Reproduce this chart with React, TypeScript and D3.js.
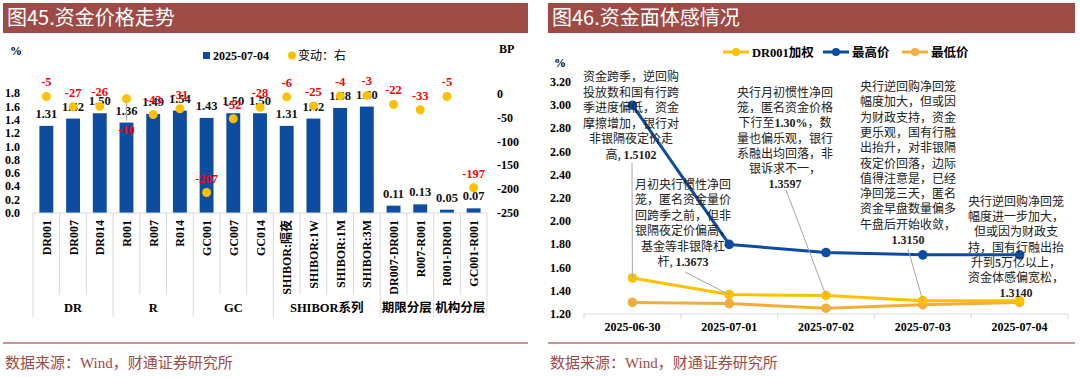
import React from "react";
import * as d3 from "d3";

// ---------- Left chart data ----------
const leftCategories = [
  "DR001", "DR007", "DR014", "R001", "R007", "R014", "GC001", "GC007", "GC014",
  "SHIBOR:隔夜", "SHIBOR:1W", "SHIBOR:1M", "SHIBOR:3M",
  "DR007-DR001", "R007-R001", "R001-DR001", "GC001-R001",
];
const leftValues = [1.31, 1.42, 1.5, 1.36, 1.49, 1.54, 1.43, 1.5, 1.5, 1.31, 1.42, 1.58, 1.6, 0.11, 0.13, 0.05, 0.07];
const leftChanges = [-5, -27, -26, -10, -43, -31, -207, -52, -28, -6, -25, -4, -3, -22, -33, -5, -197];
const leftGroupNames = ["DR", "R", "GC", "SHIBOR系列", "期限分层", "机构分层"];
const leftGroupStarts = [0, 3, 6, 9, 13, 15];
const leftGroupEnds = [2, 5, 8, 12, 14, 16];
const leftYTicks = [0, 0.2, 0.4, 0.6, 0.8, 1.0, 1.2, 1.4, 1.6, 1.8];
const leftRTicks = [0, -50, -100, -150, -200, -250];

// ---------- Right chart data ----------
const dates = ["2025-06-30", "2025-07-01", "2025-07-02", "2025-07-03", "2025-07-04"];
const dr001 = [1.5102, 1.3673, 1.3597, 1.315, 1.314];
const highs = [3.0, 1.8, 1.73, 1.71, 1.71];
const lows = [1.3, 1.29, 1.25, 1.28, 1.3];
const rightTicks = [1.2, 1.4, 1.6, 1.8, 2.0, 2.2, 2.4, 2.6, 2.8, 3.0, 3.2];

const annotations = [
  { idx: 0, cx: 631, y0: 81, step: 15.5, leader: [632, 163], lines: ["资金跨季，逆回购", "投放数和国有行跨", "季进度偏低，资金", "摩擦增加，银行对", "非银隔夜定价走", "高, 1.5102"] },
  { idx: 1, cx: 683, y0: 189, step: 15.4, leader: [685, 272], lines: ["月初央行惯性净回", "笼，匿名资金量价", "回跨季之前，但非", "银隔夜定价偏高，", "基金等非银降杠", "杆, 1.3673"] },
  { idx: 2, cx: 785, y0: 97, step: 15.2, leader: [786, 190], lines: ["央行月初惯性净回", "笼，匿名资金价格", "下行至1.30%，数", "量也偏乐观，银行", "系融出均回落，非", "银诉求不一，", "1.3597"] },
  { idx: 3, cx: 908, y0: 91, step: 15.3, leader: [908, 249], lines: ["央行逆回购净回笼", "幅度加大，但或因", "为财政支持，资金", "更乐观，国有行融", "出抬升，对非银隔", "夜定价回落，边际", "值得注意是，已经", "净回笼三天，匿名", "资金早盘数量偏多", "午盘后开始收敛，", "1.3150"] },
  { idx: 4, cx: 1016, y0: 206, step: 15.2, leader: null as null | number[], lines: ["央行逆回购净回笼", "幅度进一步加大，", "但或因为财政支", "持，国有行融出抬", "升到5万亿以上，", "资金体感偏宽松，", "1.3140"] },
];

const SERIF = "'Liberation Serif', 'Times New Roman', 'Noto Sans CJK SC', serif";
const MIX = "'Liberation Serif', 'Noto Sans CJK SC', serif";
const CJK = "'Noto Sans CJK SC', sans-serif";
const TITLE_BG = "#9E4A45";
const SRC_COLOR = "#9E4A45";
const BLUE = "#0C4DA2";
const GOLD = "#FFC000";
const ORANGE = "#F0AC3C";

function MixedText({ text, x, y, size }: { text: string; x: number; y: number; size: number }) {
  const parts = text.split(/([0-9][0-9.%]*)/).filter((p) => p.length > 0);
  return (
    <text x={x} y={y} textAnchor="middle" fontSize={size} fontFamily={MIX} fill="#222">
      {parts.map((p, i) =>
        /^[0-9]/.test(p) ? (
          <tspan key={i} fontWeight="bold" fontFamily={SERIF}>{p}</tspan>
        ) : (
          <tspan key={i} fontFamily={CJK}>{p}</tspan>
        )
      )}
    </text>
  );
}

function LeftChart() {
  const x = d3.scaleBand<string>().domain(leftCategories).range([33, 487]).padding(0);
  const yL = d3.scaleLinear().domain([0, 2.0]).range([213, 80]);
  const yR = d3.scaleLinear().domain([-250, 0]).range([213, 94]);
  const bw = x.bandwidth() * 0.52;
  const step = x.step();
  const boundaries = d3.range(leftCategories.length + 1).map((i) => 33 + i * step);
  const groupBoundarySet = new Set<number>([0, ...leftGroupEnds.map((e) => e + 1)]);
  return (
    <g>
      <rect x={3} y={3} width={525} height={30} fill={TITLE_BG} />
      <text x={7} y={25} fontSize={20} fill="#fff" fontFamily={CJK}>图45.资金价格走势</text>

      <text x={10} y={55} fontSize={12} fontWeight="bold" fontFamily={SERIF}>%</text>
      <text x={499} y={53} fontSize={12} fontWeight="bold" fontFamily={SERIF}>BP</text>

      {/* legend */}
      <rect x={203} y={52} width={7} height={7} fill={BLUE} />
      <text x={213} y={59.5} fontSize={12} fontWeight="bold" fontFamily={SERIF}>2025-07-04</text>
      <circle cx={292} cy={55.5} r={4} fill={GOLD} />
      <text x={298} y={60} fontSize={12} fontFamily={CJK}>变动：右</text>

      {leftYTicks.map((t) => (
        <text key={t} x={20} y={yL(t) + 4} textAnchor="end" fontSize={12} fontWeight="bold" fontFamily={SERIF}>
          {t.toFixed(1)}
        </text>
      ))}
      {leftRTicks.map((t) => (
        <text key={t} x={497} y={yR(t) + 4} textAnchor="start" fontSize={12} fontWeight="bold" fontFamily={SERIF}>
          {t}
        </text>
      ))}

      {/* bars */}
      {leftCategories.map((c, i) => {
        const cx = (x(c) as number) + step / 2;
        return (
          <g key={c}>
            <rect x={cx - bw / 2} y={yL(leftValues[i])} width={bw} height={yL(0) - yL(leftValues[i])} fill={BLUE} />
            <text x={cx} y={yL(leftValues[i]) - 8} textAnchor="middle" fontSize={12.5} fontWeight="bold" fontFamily={SERIF} fill="#111">
              {leftValues[i].toFixed(2)}
            </text>
          </g>
        );
      })}

      {/* axis */}
      <line x1={33} x2={487} y1={213} y2={213} stroke="#D9D9D9" strokeWidth={1} />
      {boundaries.map((b, i) => (
        <line key={i} x1={b} x2={b} y1={213} y2={groupBoundarySet.has(i) ? 317 : 295} stroke="#D9D9D9" strokeWidth={1} />
      ))}
      {leftCategories.map((c) => {
        const cx = (x(c) as number) + step / 2;
        return (
          <text key={c} transform={`translate(${cx + 4.5},220) rotate(-90)`} textAnchor="end" fontSize={12} fontWeight="bold" fontFamily={SERIF}>
            {c}
          </text>
        );
      })}
      {leftGroupNames.map((g, i) => {
        const a = 33 + leftGroupStarts[i] * step;
        const b = 33 + (leftGroupEnds[i] + 1) * step;
        return (
          <text key={g} x={(a + b) / 2} y={312} textAnchor="middle" fontSize={12.5} fontWeight="bold" fontFamily={SERIF}>
            {g}
          </text>
        );
      })}

      {/* dots & change labels */}
      {leftCategories.map((c, i) => {
        const cx = (x(c) as number) + step / 2;
        const cy = yR(leftChanges[i]);
        const below = i === 3;
        return (
          <g key={c + "d"}>
            {below && <line x1={cx} x2={cx} y1={cy} y2={cy + 22} stroke="#A6A6A6" strokeWidth={1} />}
            <circle cx={cx} cy={cy} r={4.5} fill={GOLD} />
            <text x={cx} y={below ? cy + 35 : cy - 10} textAnchor="middle" fontSize={12.5} fontWeight="bold" fontFamily={SERIF} fill="#FF0000">
              {leftChanges[i]}
            </text>
          </g>
        );
      })}

      <line x1={3} x2={528} y1={343} y2={343} stroke="#B5706B" strokeWidth={1.5} />
      <text x={5} y={368} fontSize={15} fill={SRC_COLOR} fontFamily={MIX}>数据来源：Wind，财通证券研究所</text>
    </g>
  );
}

function RightChart() {
  const x = d3.scaleBand<string>().domain(dates).range([584, 1068]).padding(0);
  const y = d3.scaleLinear().domain([1.2, 3.2]).range([314, 82]);
  const cx = (d: string) => (x(d) as number) + x.bandwidth() / 2;
  const line = d3.line<number>().x((_, i) => cx(dates[i])).y((v) => y(v));
  const series = [
    { name: "DR001加权", data: dr001, color: GOLD },
    { name: "最高价", data: highs, color: BLUE },
    { name: "最低价", data: lows, color: ORANGE },
  ];
  const drawOrder = [series[2], series[0], series[1]];
  const legendPos = [723, 823, 902];
  const boundaries = d3.range(dates.length + 1).map((i) => 584 + i * x.step());
  return (
    <g>
      <rect x={548} y={3} width={527} height={30} fill={TITLE_BG} />
      <text x={552} y={25} fontSize={20} fill="#fff" fontFamily={CJK}>图46.资金面体感情况</text>

      <text x={554} y={67} fontSize={12} fontWeight="bold" fontFamily={SERIF}>%</text>

      {series.map((s, i) => (
        <g key={s.name}>
          <line x1={legendPos[i]} x2={legendPos[i] + 26} y1={52} y2={52} stroke={s.color} strokeWidth={3} />
          <circle cx={legendPos[i] + 13} cy={52} r={4} fill={s.color} />
          <text x={legendPos[i] + 29} y={56.5} fontSize={12.5} fontWeight="bold" fontFamily={MIX}>{s.name}</text>
        </g>
      ))}

      {rightTicks.map((t) => (
        <text key={t} x={571} y={y(t) + 4} textAnchor="end" fontSize={12} fontWeight="bold" fontFamily={SERIF}>
          {t.toFixed(2)}
        </text>
      ))}

      <line x1={584} x2={1068} y1={314} y2={314} stroke="#D9D9D9" strokeWidth={1} />
      {boundaries.map((b, i) => (
        <line key={i} x1={b} x2={b} y1={314} y2={319} stroke="#D9D9D9" strokeWidth={1} />
      ))}
      {dates.map((d) => (
        <text key={d} x={cx(d)} y={331} textAnchor="middle" fontSize={12} fontWeight="bold" fontFamily={SERIF}>
          {d}
        </text>
      ))}

      {drawOrder.map((s) => (
        <g key={s.name}>
          <path d={line(s.data) as string} fill="none" stroke={s.color} strokeWidth={3} strokeLinejoin="round" />
          {s.data.map((v, i) => (
            <circle key={i} cx={cx(dates[i])} cy={y(v)} r={4.8} fill={s.color} />
          ))}
        </g>
      ))}

      {annotations.map((a, k) => (
        <g key={k}>
          {a.leader && (
            <line x1={a.leader[0]} y1={a.leader[1]} x2={cx(dates[a.idx])} y2={y(dr001[a.idx])} stroke="#A6A6A6" strokeWidth={1} />
          )}
          {a.lines.map((l, j) => (
            <MixedText key={j} text={l} x={a.cx} y={a.y0 + j * a.step} size={12} />
          ))}
        </g>
      ))}

      <line x1={548} x2={1075} y1={343} y2={343} stroke="#B5706B" strokeWidth={1.5} />
      <text x={550} y={368} fontSize={15} fill={SRC_COLOR} fontFamily={MIX}>数据来源：Wind，财通证券研究所</text>
    </g>
  );
}

export default function App() {
  return (
    <svg width={1080} height={377} style={{ position: "absolute", left: 0, top: 0, background: "#fff" }}>
      <rect x={0} y={0} width={1080} height={377} fill="#fff" />
      <LeftChart />
      <RightChart />
    </svg>
  );
}
